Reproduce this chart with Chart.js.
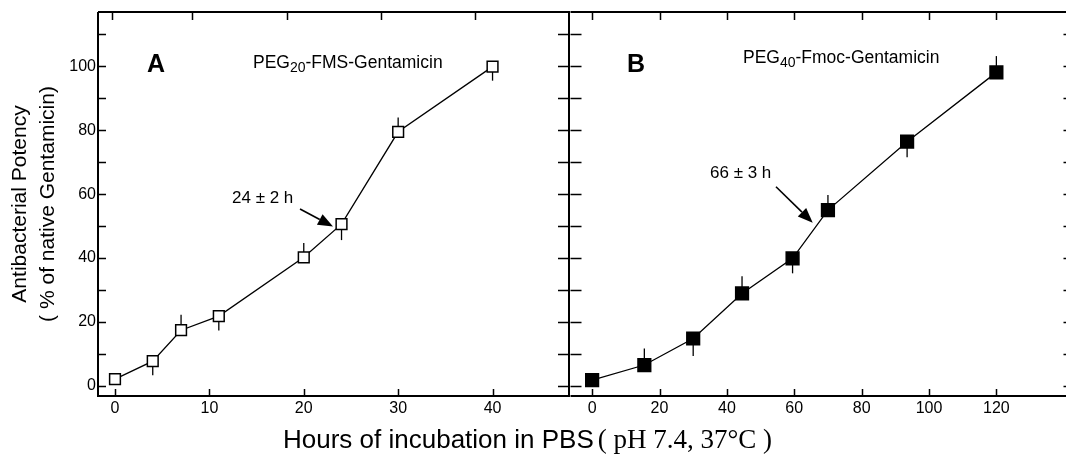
<!DOCTYPE html>
<html>
<head>
<meta charset="utf-8">
<script src="https://cdn.jsdelivr.net/npm/chart.js@4"></script>
<style>
  html, body { margin: 0; padding: 0; background: #fff; }
  body { width: 1066px; height: 464px; overflow: hidden; position: relative; }
  canvas { position: absolute; top: 0; }
  #chartA { left: 0; }
  #chartB { left: 560px; }
  #xtitle { position: absolute; left: 283px; top: 424px; white-space: nowrap; line-height: 30px; color: #000; }
  #xtitle .sans { font-family: 'Liberation Sans', Arial, sans-serif; font-size: 26px; }
  #xtitle .serif { font-family: 'Liberation Serif', 'Times New Roman', serif; font-size: 27px; }
</style>
</head>
<body>
<canvas id="chartA" width="580" height="464"></canvas>
<canvas id="chartB" width="522" height="464"></canvas>
<div id="xtitle"><span class="sans">Hours of incubation in PBS</span> <span class="serif">( pH 7.4, 37°C )</span></div>
<script>
const SANS = "'Liberation Sans', Arial, sans-serif";

// Panel A: PEG20-FMS-Gentamicin (open squares)
const A_HOURS = [0, 4, 7, 11, 20, 24, 30, 40];
const A_POTENCY = [2.1, 7.7, 17.4, 21.8, 40.2, 50.6, 79.5, 99.9];
const A_ERROR = [0, -4.4, 4.8, -4.5, 4.5, -5, 4.5, -4.4]; // + drawn up, - drawn down

// Panel B: PEG40-Fmoc-Gentamicin (filled squares)
const B_HOURS = [0, 15.5, 30, 44.5, 59.5, 70, 93.5, 120];
const B_POTENCY = [1.8, 6.5, 14.8, 28.9, 39.9, 55.0, 76.4, 98.1];
const B_ERROR = [0, 5.2, -5.5, 5.4, -4.7, 4.7, -4.9, 5.1];

const A_X_TICKS = [0, 10, 20, 30, 40];
const A_TOP_TICKS = [-0.3, 8.2, 18.2, 28.2, 38.1];
const B_X_TICKS = [0, 20, 40, 60, 80, 100, 120];
const Y_TICKS = [0, 10, 20, 30, 40, 50, 60, 70, 80, 90, 100, 110];
const Y_LABELS = [0, 20, 40, 60, 80, 100];

const points = (xs, ys) => xs.map((x, i) => ({ x, y: ys[i] }));

// error bars are one-sided, drawn under the markers
const errorBars = {
  id: 'errorBars',
  beforeDatasetsDraw(chart) {
    const { ctx, scales: { x, y } } = chart;
    ctx.save();
    ctx.strokeStyle = '#000';
    ctx.lineWidth = 1.3;
    chart.data.datasets.forEach(ds => {
      (ds.errors || []).forEach((e, i) => {
        if (!e) return;
        const p = ds.data[i];
        const px = x.getPixelForValue(p.x);
        ctx.beginPath();
        ctx.moveTo(px, y.getPixelForValue(p.y));
        ctx.lineTo(px, y.getPixelForValue(p.y + e));
        ctx.stroke();
      });
    });
    ctx.restore();
  }
};

// box frame with inward tick marks
const frame = {
  id: 'frame',
  afterDraw(chart, args, opts) {
    const { ctx, chartArea: a, scales: { x, y } } = chart;
    ctx.save();
    ctx.strokeStyle = '#000';
    ctx.lineWidth = 1.5;
    ctx.beginPath();
    y.ticks.forEach(t => {
      const py = Math.round(y.getPixelForValue(t.value)) + 0.5;
      ctx.moveTo(a.left, py); ctx.lineTo(a.left + opts.leftLen, py);
      ctx.moveTo(a.right, py); ctx.lineTo(a.right - opts.rightLen, py);
    });
    x.ticks.forEach(t => {
      const px = Math.round(x.getPixelForValue(t.value)) + 0.5;
      ctx.moveTo(px, a.bottom); ctx.lineTo(px, a.bottom - 7);
    });
    (opts.topTicks || x.ticks.map(t => t.value)).forEach(v => {
      const px = Math.round(x.getPixelForValue(v)) + 0.5;
      ctx.moveTo(px, a.top); ctx.lineTo(px, a.top + 8);
    });
    ctx.stroke();
    ctx.lineWidth = 2;
    ctx.beginPath();
    ctx.moveTo(a.left, a.top); ctx.lineTo(a.right, a.top);
    ctx.lineTo(a.right, a.bottom); ctx.lineTo(a.left, a.bottom);
    if (!opts.skipLeft) ctx.lineTo(a.left, a.top);
    ctx.stroke();
    ctx.restore();
  }
};

function arrow(ctx, x1, y1, x2, y2) {
  const ang = Math.atan2(y2 - y1, x2 - x1);
  const len = 15, half = 6;
  const bx = x2 - len * Math.cos(ang), by = y2 - len * Math.sin(ang);
  ctx.beginPath();
  ctx.moveTo(x1, y1);
  ctx.lineTo(bx, by);
  ctx.lineWidth = 1.6;
  ctx.stroke();
  ctx.beginPath();
  ctx.moveTo(x2, y2);
  ctx.lineTo(bx + half * Math.sin(ang), by - half * Math.cos(ang));
  ctx.lineTo(bx - half * Math.sin(ang), by + half * Math.cos(ang));
  ctx.closePath();
  ctx.fill();
}

// panel letter, compound name, half-life note with arrow
const notes = {
  id: 'notes',
  afterDraw(chart, args, o) {
    const ctx = chart.ctx;
    ctx.save();
    ctx.fillStyle = '#000';
    ctx.strokeStyle = '#000';
    ctx.textBaseline = 'middle';
    ctx.font = 'bold 25px ' + SANS;
    ctx.fillText(o.letter, o.letterAt[0], o.letterAt[1]);

    ctx.textBaseline = 'alphabetic';
    let [tx, ty] = o.nameAt;
    ctx.font = '17.5px ' + SANS;
    ctx.fillText('PEG', tx, ty);
    tx += ctx.measureText('PEG').width;
    ctx.font = '14px ' + SANS;
    ctx.fillText(o.sub, tx, ty + 4);
    tx += ctx.measureText(o.sub).width;
    ctx.font = '17.5px ' + SANS;
    ctx.fillText(o.name, tx, ty);

    ctx.textBaseline = 'middle';
    ctx.font = '17px ' + SANS;
    ctx.fillText(o.note, o.noteAt[0], o.noteAt[1]);
    arrow(ctx, ...o.arrow);
    ctx.restore();
  }
};

function yScale(showLabels) {
  return {
    type: 'linear',
    min: -3.2,
    max: 117,
    afterBuildTicks: s => { s.ticks = Y_TICKS.map(v => ({ value: v })); },
    afterFit: s => { s.width = showLabels ? 98 : 9; },
    grid: { display: false, drawTicks: false, tickLength: 0 },
    border: { display: false },
    ticks: {
      display: showLabels,
      color: '#000',
      padding: 2,
      font: { family: SANS, size: 16 },
      callback: v => (Y_LABELS.includes(v) ? v : '')
    },
    title: {
      display: showLabels,
      text: ['Antibacterial Potency', '( % of native Gentamicin)'],
      color: '#000',
      font: { family: SANS, size: 21, lineHeight: 1.3 },
      padding: { top: 7, bottom: 0 }
    }
  };
}

function xScale(min, max, tickValues) {
  return {
    type: 'linear',
    min,
    max,
    afterBuildTicks: s => { s.ticks = tickValues.map(v => ({ value: v })); },
    afterFit: s => { s.height = 68; },
    grid: { display: false, drawTicks: false, tickLength: 0 },
    border: { display: false },
    ticks: {
      color: '#000',
      padding: 3,
      maxRotation: 0,
      autoSkip: false,
      font: { family: SANS, size: 16 }
    }
  };
}

function makeChart(id, cfg) {
  return new Chart(document.getElementById(id), {
    type: 'line',
    data: {
      datasets: [{
        data: cfg.data,
        errors: cfg.errors,
        borderColor: '#000',
        borderWidth: 1.3,
        tension: 0,
        pointStyle: 'rect',
        pointRadius: cfg.radius,
        pointBorderWidth: 1.5,
        pointBorderColor: '#000',
        pointBackgroundColor: cfg.fill
      }]
    },
    options: {
      responsive: false,
      animation: false,
      layout: { padding: { top: 12, right: cfg.padRight, left: 0, bottom: 0 } },
      scales: { x: cfg.x, y: cfg.y },
      plugins: {
        legend: { display: false },
        tooltip: { enabled: false },
        frame: cfg.frame,
        notes: cfg.notes
      }
    },
    plugins: [errorBars, frame, notes]
  });
}

makeChart('chartA', {
  data: points(A_HOURS, A_POTENCY),
  errors: A_ERROR,
  radius: 7.6,
  fill: '#fff',
  padRight: 11,
  x: xScale(-1.8, 48.1, A_X_TICKS),
  y: yScale(true),
  frame: { leftLen: 8, rightLen: 11, topTicks: A_TOP_TICKS },
  notes: {
    letter: 'A', letterAt: [147, 65],
    sub: '20', name: '-FMS-Gentamicin', nameAt: [253, 68],
    note: '24 \u00b1 2 h', noteAt: [232, 198.5],
    arrow: [300, 209, 333, 226.5]
  }
});

makeChart('chartB', {
  data: points(B_HOURS, B_POTENCY),
  errors: B_ERROR,
  radius: 9,
  fill: '#000',
  padRight: 10,
  x: xScale(-6.42, 142.3, B_X_TICKS),
  y: yScale(false),
  frame: { leftLen: 11, rightLen: 8, skipLeft: true },
  notes: {
    letter: 'B', letterAt: [67, 65],
    sub: '40', name: '-Fmoc-Gentamicin', nameAt: [183, 63],
    note: '66 \u00b1 3 h', noteAt: [150, 173.5],
    arrow: [216, 186.7, 252.7, 222.7]
  }
});
</script>
</body>
</html>
